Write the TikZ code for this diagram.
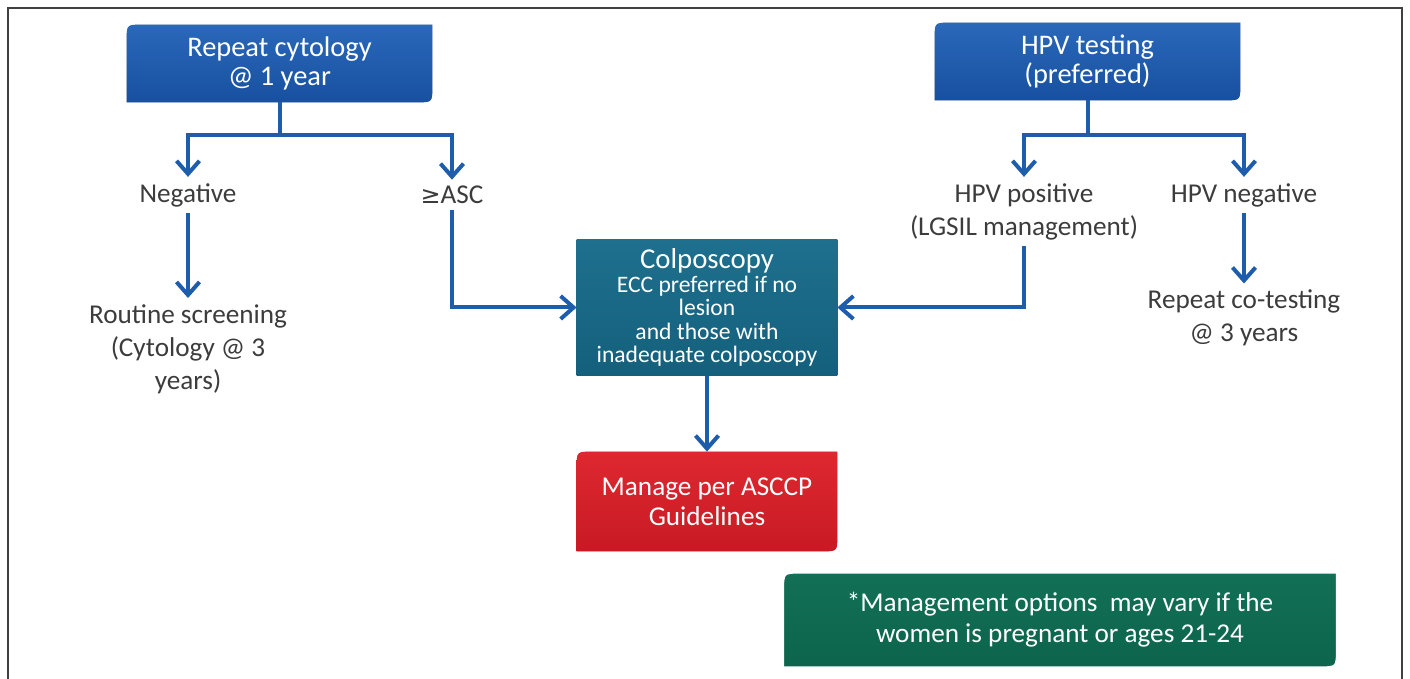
\documentclass[tikz,border=0pt]{standalone}
\usepackage{fontspec}
\setmainfont{Carlito}
\newfontfamily\symfont{DejaVu Sans}
\usetikzlibrary{arrows.meta,backgrounds}

\definecolor{flowblue}{RGB}{30,92,172}
\definecolor{boxblueT}{RGB}{42,104,186}
\definecolor{boxblueB}{RGB}{24,80,160}
\definecolor{tealT}{RGB}{30,112,142}
\definecolor{tealB}{RGB}{20,96,124}
\definecolor{redT}{RGB}{222,40,48}
\definecolor{redB}{RGB}{200,26,36}
\definecolor{noteT}{RGB}{18,112,86}
\definecolor{noteB}{RGB}{12,100,76}
\definecolor{labelgray}{RGB}{60,60,60}

% box with rounded top-left and bottom-right corners
\newcommand{\diagshape}[3][]{%
  \path[#1] ([yshift=-#3]#2.north west) .. controls (#2.north west) .. ([xshift=#3]#2.north west)
    -- (#2.north east)
    -- ([yshift=#3]#2.south east) .. controls (#2.south east) .. ([xshift=-#3]#2.south east)
    -- (#2.south west) -- cycle;}

\begin{document}
\begin{tikzpicture}[x=0.5pt,y=-0.5pt,
  boxtext/.style={align=center, text=white, inner sep=0pt},
  plain/.style={align=center, text=labelgray, inner sep=3pt,
    font=\fontsize{13.6pt}{16.5pt}\selectfont},
  flow/.style={draw=flowblue, line width=2pt,
    -{Straight Barb[length=6.5pt,width=11.5pt,line width=2pt]}},
  stem/.style={draw=flowblue, line width=2pt},
  shade/.style={fill=black!22}
]
\useasboundingbox (0,0) rectangle (1410,679);
\draw[line width=1pt, black!75] (8,680) -- (8,8) -- (1402,8) -- (1402,680);

% boxes
\node[boxtext, minimum width=152.5pt, minimum height=38.5pt,
  font=\fontsize{14.2pt}{14.5pt}\selectfont] (cyt) at (279.5,63.5)
  {Repeat cytology\\@ 1 year};
\node[boxtext, minimum width=152.5pt, minimum height=38.5pt,
  font=\fontsize{14.2pt}{14.5pt}\selectfont] (hpv) at (1087.5,61.5)
  {HPV testing\\(preferred)};
\node[boxtext, minimum width=130pt, minimum height=68pt,
  font=\fontsize{11.8pt}{11.75pt}\selectfont] (colpo) at (707,307.5)
  {\fontsize{14.4pt}{11.75pt}\selectfont Colposcopy\\
   \fontsize{11.8pt}{11.75pt}\selectfont ECC preferred if no\\lesion\\and those with\\inadequate colposcopy};
\node[boxtext, minimum width=130pt, minimum height=49.5pt,
  font=\fontsize{13.6pt}{15pt}\selectfont] (manage) at (707,501.5)
  {Manage per ASCCP\\Guidelines};
\node[boxtext, minimum width=277.5pt, minimum height=48pt,
  font=\fontsize{13.6pt}{15.5pt}\selectfont] (note) at (1060,620)
  {*Management options\ \ may vary if the\\women is pregnant or ages 21-24};

\begin{scope}[on background layer]
  \begin{scope}[shift={(3,4)}]
    \diagshape[shade]{cyt}{8pt}
    \diagshape[shade]{hpv}{8pt}
    \fill[shade] (colpo.south west) rectangle (colpo.north east);
    \diagshape[shade]{manage}{8pt}
  \end{scope}
  \begin{scope}[shift={(4,5)}]
    \diagshape[fill=black!18]{note}{10pt}
  \end{scope}
  \diagshape[top color=boxblueT, bottom color=boxblueB]{cyt}{8pt}
  \diagshape[top color=boxblueT, bottom color=boxblueB]{hpv}{8pt}
  \path[top color=tealT, bottom color=tealB] (colpo.south west) rectangle (colpo.north east);
  \diagshape[top color=redT, bottom color=redB]{manage}{8pt}
  \diagshape[top color=noteT, bottom color=noteB, draw=white, line width=2pt]{note}{10pt}
\end{scope}

% outcome labels
\node[plain] (neg) at (188,195) {Negative};
\node[plain] (asc) at (452,195) {{\symfont\fontsize{12pt}{12pt}\selectfont ≥}ASC};
\node[plain] (routine) at (188,349) {Routine screening\\(Cytology @ 3\\years)};
\node[plain] (hpvpos) at (1024,211.5) {HPV positive\\(LGSIL management)};
\node[plain] (hpvneg) at (1244,195) {HPV negative};
\node[plain] (cotest) at (1244,318) {Repeat co-testing\\@ 3 years};

% junctions below the top boxes
\coordinate (cytj) at (cyt.south |- 0,135);
\coordinate (hpvj) at (hpv.south |- 0,135);

% connectors
\draw[stem] (cyt.south) -- (cytj);
\draw[flow] (cytj) -| (neg.north);
\draw[flow] (cytj) -| (asc.north);
\draw[stem] (hpv.south) -- (hpvj);
\draw[flow] (hpvj) -| (hpvpos.north);
\draw[flow] (hpvj) -| (hpvneg.north);
\draw[flow] (neg.south) -- (routine.north);
\draw[flow] (hpvneg.south) -- (cotest.north);
\draw[flow] (asc.south) |- (colpo.west);
\draw[flow] (hpvpos.south) |- (colpo.east);
\draw[flow] (colpo.south) -- (manage.north);
\end{tikzpicture}
\end{document}
